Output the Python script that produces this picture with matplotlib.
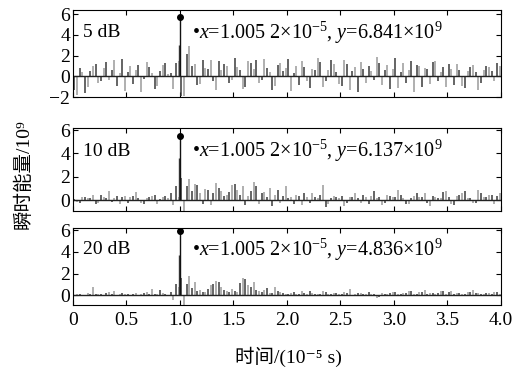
import numpy as np
import matplotlib
matplotlib.use("Agg")
import matplotlib.pyplot as plt

plt.rcParams['font.family'] = ['Liberation Serif', 'DejaVu Serif', 'Noto Sans CJK SC']
plt.rcParams['mathtext.fontset'] = 'custom'
plt.rcParams['mathtext.rm'] = 'Liberation Serif'
plt.rcParams['mathtext.it'] = 'Liberation Serif:italic'
plt.rcParams['axes.unicode_minus'] = True

# panel labels (SNR) and peak annotations
snr_labels = ["5 dB", "10 dB", "20 dB"]
peak_texts = [r"•$x$=1.005 2×10$^{-5}$, $y$=6.841×10$^9$",
              r"•$x$=1.005 2×10$^{-5}$, $y$=6.137×10$^9$",
              r"•$x$=1.005 2×10$^{-5}$, $y$=4.836×10$^9$"]
peak_x = 1.0052
peak_y = [5.7, 5.5, 5.95]
sub_peak_x = 0.99
sub_peak_y = [3.0, 3.6, 3.7]

# sampled energy (units 1e9), dark and light traces, 80 samples over 0..4
dark_5db = [-1.3, 0.8, -1.6, 0.5, 1.2, -0.5, 1.4, 0.6, -0.9, 1.7,
            0.4, -0.7, 1.1, -0.3, 0.9, -1.2, 0.5, 1.3, 0.3, 1.3,
            -1.9, 2.2, 1.0, -0.8, 1.6, 0.7, -0.5, 1.5, 1.2, -0.6,
            1.8, 0.6, -1.0, 1.3, 1.6, -0.4, 0.8, -1.3, 1.1, 0.5,
            1.7, 0.3, -0.8, 0.9, -1.1, 0.6, 1.4, -0.5, 1.6, 0.4,
            -0.9, 1.2, 0.5, -1.5, 0.7, 1.0, -0.4, 1.3, 0.6, -1.2,
            1.8, 0.4, -0.6, 1.5, 1.1, -1.0, 0.7, 1.4, -0.5, 0.9,
            1.2, -0.8, 0.6, -1.1, 0.9, 0.4, -0.6, 1.0, 0.5, 1.3]
light_5db = [-1.8, 0.4, -1.0, 1.0, -0.6, 0.8, -0.4, 1.6, 0.3, -1.4,
             1.0, 0.6, -1.5, 1.4, 0.3, -0.9, 1.1, 0.2, -1.2, 1.5,
             -1.9, 2.9, 1.2, -0.7, 0.8, 1.6, -1.3, 0.6, 1.0, -0.4,
             0.9, -1.2, 1.5, 0.7, -0.6, 1.7, 0.4, -0.9, 1.3, 0.8,
             -1.4, 1.0, 1.5, -0.5, 0.7, 1.8, -1.0, 0.6, 1.2, -0.7,
             1.6, -1.3, 0.9, 1.4, -0.6, 0.5, 1.9, -0.8, 1.1, 0.7,
             -1.1, 1.3, 0.6, -1.5, 1.0, 0.8, -0.7, 1.5, 0.4, -1.0,
             0.7, 1.2, -0.9, 0.5, 1.1, -1.3, 0.6, 0.9, -0.5, 1.0]
dark_10db = [0.1, -0.2, 0.3, 0.2, -0.3, 0.5, 0.2, -0.1, 0.4, 0.3,
             -0.2, 0.4, 0.2, -0.3, 0.3, 0.5, 0.1, 0.4, 0.6, 1.2,
             1.9, 1.2, 0.8, 1.3, -0.3, 0.9, 0.6, 1.1, 0.4, 0.7,
             1.4, 0.5, -0.4, 0.8, 1.2, 0.6, 0.3, -0.5, 0.9, 0.4,
             0.2, -0.3, 0.4, 0.6, -0.2, 0.3, 0.5, -0.6, 0.2, 0.3,
             0.4, -0.2, 0.3, 0.2, 0.5, -0.3, 0.8, 0.3, -0.2, 0.4,
             0.3, 0.5, -0.3, 0.2, 0.6, 0.3, -0.2, 0.4, 0.2, 0.7,
             0.3, -0.4, 0.5, 0.8, 0.2, -0.2, 0.6, 0.3, 0.5, 0.4]
light_10db = [-0.1, 0.3, 0.2, 0.5, -0.2, 0.3, 0.8, 0.2, -0.3, 0.4,
              0.3, 0.7, -0.2, 0.2, 0.4, -0.3, 0.3, 0.2, -0.4, 0.3,
              -0.9, 1.8, 1.4, 0.6, 1.0, -0.4, 1.5, 0.8, 0.5, 1.3,
              0.9, 1.2, 0.4, 1.6, -0.3, 0.7, 1.1, 0.5, -0.2, 1.2,
              0.3, 0.5, -0.4, 0.3, 0.6, 0.2, 1.3, -0.3, 0.4, 0.2,
              -0.5, 0.3, 0.6, -0.2, 0.3, 0.4, 0.2, -0.4, 0.5, 0.3,
              0.9, 0.2, -0.3, 0.4, 0.3, 0.6, -0.5, 0.3, 0.2, 0.8,
              -0.3, 0.4, 0.6, 0.2, -0.2, 0.9, 0.3, 0.5, -0.3, 0.6]
dark_20db = [0.05, 0.1, 0.02, 0.15, 0.1, 0.08, 0.2, 0.1, 0.05, 0.25,
             0.1, 0.15, 0.05, 0.2, 0.1, 0.12, 0.5, 0.1, 0.3, 1.0,
             1.6, 1.0, 0.7, 0.4, 0.3, 0.6, 1.0, 1.2, 0.5, 0.3,
             0.4, 1.1, 1.5, 0.8, 0.5, 0.3, 0.7, 0.2, 0.4, 0.2,
             0.15, 0.3, 0.1, 0.2, 0.4, 0.1, 0.15, 0.3, 0.1, 0.2,
             0.1, 0.25, 0.05, 0.2, 0.1, 0.3, 0.15, -0.2, 0.1, 0.2,
             0.3, 0.1, 0.2, 0.4, 0.15, 0.3, 0.1, 0.25, 0.2, 0.4,
             0.3, 0.15, 0.2, 0.1, 0.3, 0.25, 0.1, 0.2, 0.15, 0.3]
light_20db = [0.1, 0.05, 0.2, 0.8, 0.1, 0.05, 0.3, 0.35, 0.1, 0.15,
              0.05, 0.2, 0.1, 0.3, 0.6, 0.1, 0.2, 0.05, -0.4, 0.8,
              -0.9, 1.8, 1.2, 0.5, 0.3, 0.9, 1.3, 0.8, 0.4, 0.6,
              0.3, 1.6, 0.9, 1.2, 0.4, 0.5, 0.2, 0.8, 0.3, 0.1,
              0.2, 0.1, 0.35, 0.1, 0.2, 0.15, 0.4, 0.1, 0.2, 0.1,
              0.3, 0.6, 0.1, 0.2, 0.15, 0.1, -0.3, 0.2, 0.1, 0.3,
              0.1, 0.2, 0.4, 0.1, 0.3, 0.5, 0.2, 0.1, 0.35, 0.15,
              0.4, 0.2, 0.1, 0.3, 0.5, 0.2, 0.1, 0.2, 0.3, 0.15]

darks = [dark_5db, dark_10db, dark_20db]
lights = [light_5db, light_10db, light_20db]

x_ticks = [0, 0.5, 1.0, 1.5, 2.0, 2.5, 3.0, 3.5, 4.0]
x_ticklabels = ["0", "0.5", "1.0", "1.5", "2.0", "2.5", "3.0", "3.5", "4.0"]
y_ticks = [[-2, 0, 2, 4, 6], [0, 2, 4, 6], [0, 2, 4, 6]]
y_limits = [(-1.9, 6.4), (-0.9, 6.17), (-0.9, 6.2)]

# axes rectangles in figure fractions
rects = [[0.140, 0.7406, 0.8215, 0.2326],
         [0.140, 0.4358, 0.8215, 0.2219],
         [0.140, 0.1845, 0.8215, 0.2059]]

dark_c = '#3a3a3a'
light_c = '#9a9a9a'

fig = plt.figure(figsize=(5.21, 3.74), dpi=100)

t_dark = np.arange(80) * 0.05 + 0.0125
t_light = np.arange(80) * 0.05 + 0.0375

for k in range(3):
    ax = fig.add_axes(rects[k])
    ax.vlines(t_light, 0, lights[k], color=light_c, linewidth=1.1)
    ax.vlines(t_dark, 0, darks[k], color=dark_c, linewidth=1.1)
    ax.vlines([sub_peak_x], 0, [sub_peak_y[k]], color=dark_c, linewidth=1.0)
    ax.vlines([peak_x], 0, [peak_y[k]], color='#111111', linewidth=1.0)
    ax.plot([peak_x], [peak_y[k]], 'o', color='black', markersize=4)
    ax.axhline(0, color='#222222', linewidth=1.0)

    ax.text(0.09, 4.2, snr_labels[k], fontsize=14, va='center', ha='left')
    ax.text(1.11, 4.2, peak_texts[k], fontsize=14.5, va='center', ha='left')

    ax.set_xlim(0, 4.0)
    ax.set_ylim(*y_limits[k])
    ax.set_xticks(x_ticks)
    ax.set_yticks(y_ticks[k])
    if k == 2:
        ax.set_xticklabels(x_ticklabels)
    else:
        ax.set_xticklabels([])
    ax.tick_params(direction='in', top=True, right=True, length=3.5,
                   width=0.8, labelsize=14, pad=2)
    ax.tick_params(axis='x', pad=5)
    for s in ax.spines.values():
        s.set_linewidth(0.8)

fig.text(0.046, 1 - 174 / 374, "瞬时能量/10⁹", rotation=90,
         fontsize=14, ha='center', va='center')
fig.text(0.553, 1 - 357 / 374, "时间/(10⁻⁵ s)",
         fontsize=14, ha='center', va='center')

fig.savefig("out.png", dpi=100)
